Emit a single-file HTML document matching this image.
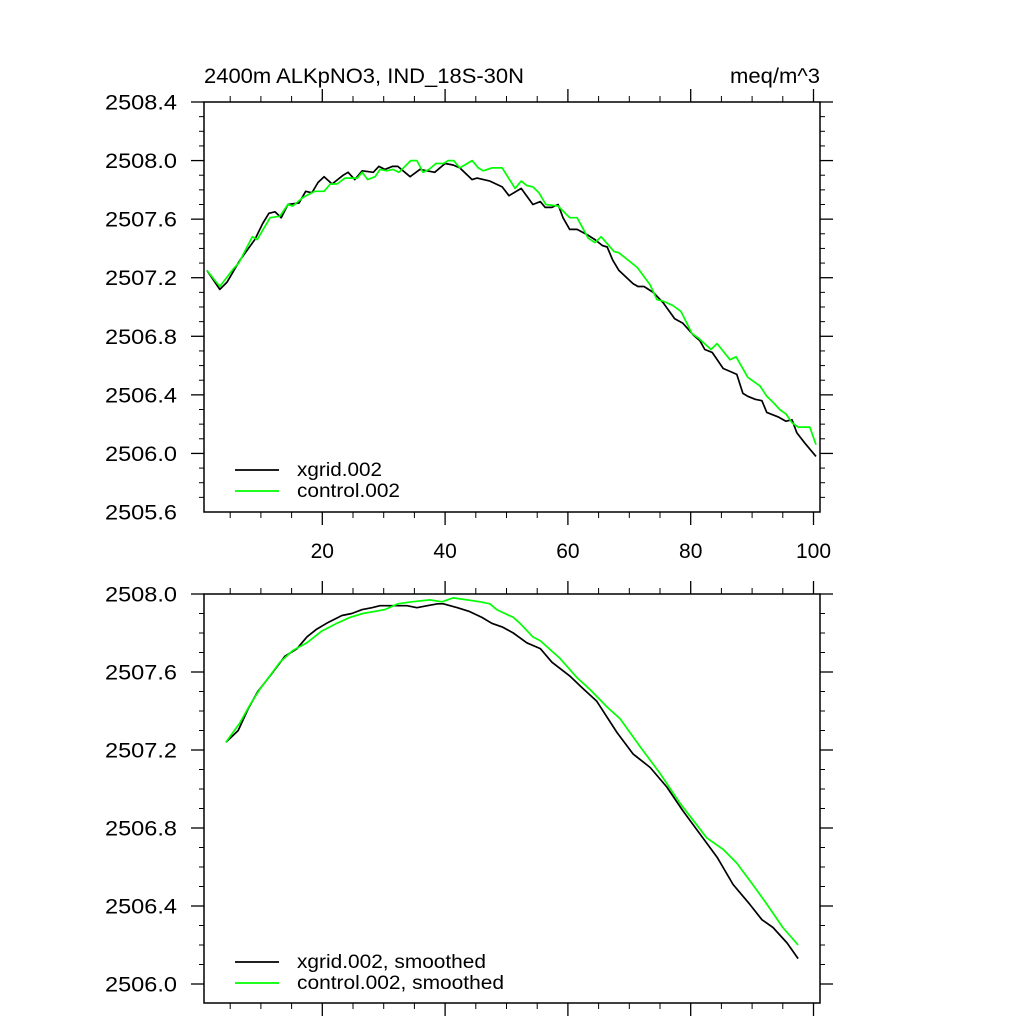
<!DOCTYPE html>
<html><head><meta charset="utf-8"><style>
html,body{margin:0;padding:0;background:#fff;}
svg{display:block;font-family:"Liberation Sans",sans-serif;}
</style></head><body>
<svg id="chart" width="1024" height="1024" xmlns="http://www.w3.org/2000/svg">
<text x="204" y="83" font-size="21" textLength="320" lengthAdjust="spacingAndGlyphs">2400m ALKpNO3, IND_18S-30N</text>
<text x="730" y="83" font-size="21" textLength="90" lengthAdjust="spacingAndGlyphs">meq/m^3</text>
<g id="p1"></g>
<g id="p2"></g>
</svg>
<script>
const xTicks=[20,40,60,80,100];
const topYTicks=[2505.6,2506.0,2506.4,2506.8,2507.2,2507.6,2508.0,2508.4];
const botYTicks=[2506.0,2506.4,2506.8,2507.2,2507.6,2508.0];
const seriesNames=["xgrid.002","control.002"];
const seriesNamesSmooth=["xgrid.002, smoothed","control.002, smoothed"];
const xgridX=[1.2,3.3,4.5,6.6,9.0,10.3,11.3,12.3,13.3,14.4,16.2,17.3,18.3,19.3,20.3,21.6,23.4,24.2,25.3,26.5,28.3,29.2,30.2,31.4,32.3,34.3,35.9,38.3,40.0,41.3,42.4,44.4,45.2,47.3,49.3,50.4,52.4,54.3,55.5,56.3,57.4,58.4,59.2,60.3,61.5,63.3,64.4,65.6,66.4,67.3,68.3,70.6,71.4,72.4,73.9,75.5,77.4,78.7,80.4,81.5,82.3,83.5,85.3,86.4,87.5,88.5,89.3,90.5,91.6,92.4,94.2,95.5,96.5,97.3,98.6,100.4];
const xgridY=[2507.25,2507.12,2507.17,2507.32,2507.46,2507.57,2507.64,2507.65,2507.61,2507.70,2507.71,2507.79,2507.78,2507.85,2507.89,2507.84,2507.90,2507.92,2507.87,2507.93,2507.92,2507.96,2507.94,2507.96,2507.96,2507.89,2507.94,2507.92,2507.98,2507.97,2507.95,2507.87,2507.88,2507.86,2507.82,2507.76,2507.81,2507.70,2507.72,2507.68,2507.68,2507.70,2507.61,2507.53,2507.53,2507.49,2507.46,2507.42,2507.41,2507.32,2507.25,2507.16,2507.14,2507.14,2507.10,2507.03,2506.92,2506.89,2506.81,2506.77,2506.71,2506.69,2506.58,2506.56,2506.54,2506.41,2506.39,2506.37,2506.36,2506.28,2506.25,2506.22,2506.23,2506.14,2506.07,2505.98];
const controlX=[1.2,3.3,5.5,6.4,8.6,9.4,11.5,13.1,14.4,15.2,16.9,18.8,20.3,21.3,22.4,23.7,25.7,26.5,27.4,28.6,29.4,30.5,31.5,32.5,34.4,35.4,36.4,37.4,38.5,39.7,40.5,41.4,42.4,44.4,45.4,46.2,47.6,49.3,50.2,51.4,52.4,53.3,54.3,55.3,56.4,58.4,60.3,61.5,63.3,64.4,65.4,67.5,68.3,71.3,73.4,74.5,75.5,77.1,78.4,80.2,81.2,83.3,84.3,86.4,87.4,89.3,91.3,92.4,93.4,94.5,95.5,96.5,97.5,99.4,100.4];
const controlY=[2507.25,2507.14,2507.26,2507.30,2507.48,2507.46,2507.61,2507.62,2507.70,2507.69,2507.75,2507.79,2507.79,2507.84,2507.84,2507.88,2507.88,2507.92,2507.87,2507.89,2507.94,2507.93,2507.94,2507.92,2508.00,2508.00,2507.92,2507.94,2507.98,2507.98,2508.00,2508.00,2507.95,2508.00,2507.95,2507.93,2507.95,2507.95,2507.89,2507.81,2507.86,2507.83,2507.82,2507.78,2507.70,2507.69,2507.61,2507.61,2507.47,2507.44,2507.48,2507.38,2507.37,2507.27,2507.15,2507.05,2507.04,2507.01,2506.97,2506.82,2506.79,2506.71,2506.75,2506.64,2506.66,2506.52,2506.46,2506.39,2506.35,2506.30,2506.27,2506.21,2506.18,2506.18,2506.06];
const xgridSmX=[4.3,6.3,7.9,9.5,11.5,13.9,15.9,17.5,19.1,20.7,23.2,24.8,26.5,28.1,29.4,31.5,33.8,35.4,37.1,38.8,39.7,42.0,44.0,46.0,47.6,49.4,51.1,53.3,55.5,57.4,60.3,62.3,64.7,68.0,70.6,73.4,76.1,78.7,81.5,84.3,86.9,89.6,91.6,93.4,95.7,97.5];
const xgridSmY=[2507.24,2507.30,2507.41,2507.50,2507.58,2507.68,2507.72,2507.78,2507.82,2507.85,2507.89,2507.90,2507.92,2507.93,2507.94,2507.94,2507.94,2507.93,2507.94,2507.95,2507.95,2507.93,2507.91,2507.88,2507.85,2507.83,2507.80,2507.75,2507.72,2507.65,2507.58,2507.52,2507.45,2507.29,2507.18,2507.11,2507.01,2506.89,2506.77,2506.65,2506.51,2506.41,2506.33,2506.29,2506.21,2506.13];
const controlSmX=[4.3,6.6,8.2,9.8,13.1,15.2,17.5,19.9,22.4,24.5,26.6,30.2,32.3,34.6,37.5,39.5,41.3,43.6,45.7,47.3,48.4,51.1,52.2,54.3,55.5,58.7,61.5,63.6,66.4,68.5,71.7,75.0,78.2,82.6,85.3,87.5,90.1,92.4,95.0,97.5];
const controlSmY=[2507.24,2507.34,2507.43,2507.51,2507.65,2507.71,2507.75,2507.81,2507.85,2507.88,2507.90,2507.92,2507.95,2507.96,2507.97,2507.96,2507.98,2507.97,2507.96,2507.95,2507.92,2507.88,2507.85,2507.78,2507.76,2507.67,2507.57,2507.51,2507.42,2507.36,2507.22,2507.08,2506.93,2506.75,2506.69,2506.62,2506.51,2506.41,2506.29,2506.20];

const NS="http://www.w3.org/2000/svg";
function mk(parent,tag,attrs){const e=document.createElementNS(NS,tag);for(const k in attrs)e.setAttribute(k,attrs[k]);parent.appendChild(e);return e;}
const L=204,R=820;
const xScale=v=>199.5+6.14*v;
const xMaxData=(R-199.5)/6.14;

function drawPanel(g,top,bot,pxPerUnit,yTopVal,yTicks,showXLabels,xs,ys,names,legY,legLens){
  const yS=v=>top+(yTopVal-v)*pxPerUnit;
  const minorStep=0.1;
  const yMinVis=yTopVal-(bot-top)/pxPerUnit;
  for(let v=Math.ceil(yMinVis/minorStep-1e-6)*minorStep;v<=yTopVal+1e-6;v+=minorStep){
    const y=yS(v);const isMaj=yTicks.some(t=>Math.abs(t-v)<1e-6);
    const len=isMaj?13:5;
    const t1=mk(g,'line',{x1:L-len,y1:y,x2:L,y2:y,stroke:'#000','stroke-width':isMaj?1.3:1});
    
    
    const t2=mk(g,'line',{x1:R,y1:y,x2:R+len,y2:y,stroke:'#000','stroke-width':isMaj?1.3:1});
    
    
  }
  yTicks.forEach(v=>{
    const t=mk(g,'text',{x:105,y:yS(v)+7.5,'font-size':21,textLength:72,lengthAdjust:'spacingAndGlyphs'});
    t.textContent=v.toFixed(1);
    
    
  });
  for(let v=5;v<=xMaxData;v+=5){
    const x=xScale(v);const isMaj=v%20===0;const len=isMaj?13:6;
    const a=mk(g,'line',{x1:x,y1:bot,x2:x,y2:bot+len,stroke:'#000','stroke-width':isMaj?1.3:1});
    
    
    const b=mk(g,'line',{x1:x,y1:top-len,x2:x,y2:top,stroke:'#000','stroke-width':isMaj?1.3:1});
    
    
  }
  if(showXLabels){xTicks.forEach(v=>{
    const t=mk(g,'text',{x:xScale(v),y:558,'font-size':21,'text-anchor':'middle'});
    t.textContent=String(v);
    
    
  });}
  const box=mk(g,'rect',{x:L,y:top,width:R-L,height:bot-top,fill:'none',stroke:'#000','stroke-width':1.5});
  
  
  const colors=['#000','#00ff00'];
  for(let s=0;s<2;s++){
    const d=xs[s].map((x,i)=>(i?'L':'M')+xScale(x).toFixed(1)+','+yS(ys[s][i]).toFixed(1)).join(' ');
    const p=mk(g,'path',{d:d,fill:'none',stroke:colors[s],'stroke-width':1.7,'stroke-linejoin':'round'});
    
    
    const ly=legY+s*21;
    const ll=mk(g,'line',{x1:235,y1:ly,x2:279,y2:ly,stroke:colors[s],'stroke-width':1.7});
    
    
    const lt=mk(g,'text',{x:297,y:ly+6,'font-size':19,textLength:legLens[s],lengthAdjust:'spacingAndGlyphs'});
    lt.textContent=names[s];
    
    
  }
}
drawPanel(document.getElementById('p1'),102,512,146.43,2508.4,topYTicks,true,[xgridX,controlX],[xgridY,controlY],seriesNames,470,[85,103]);
drawPanel(document.getElementById('p2'),594,1003,195,2508.0,botYTicks,false,[xgridSmX,controlSmX],[xgridSmY,controlSmY],seriesNamesSmooth,962,[189,207]);
</script>
</body></html>
